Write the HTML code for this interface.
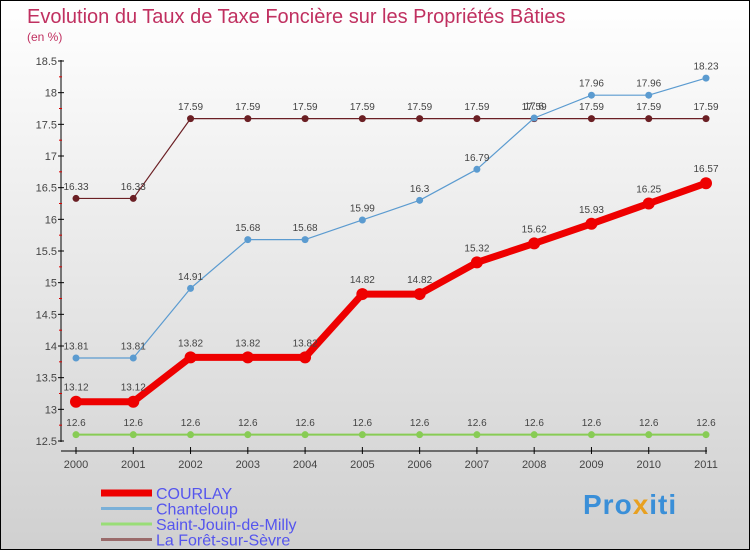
<!DOCTYPE html>
<html><head><meta charset="utf-8"><style>
body{margin:0}
#c{width:750px;height:550px;position:relative;background:linear-gradient(#ffffff,#d0d0d0);border:1px solid #000;box-sizing:border-box;overflow:hidden;font-family:"Liberation Sans",sans-serif}
</style></head><body>
<div id="c">
<svg id="s" width="750" height="550">
<text x="26" y="22" font-size="20" fill="#c03060">Evolution du Taux de Taxe Foncière sur les Propriétés Bâties</text>
<text x="26" y="40" font-size="12" fill="#c03060">(en %)</text>
</svg>
<div style="position:absolute;left:582px;top:488px;font-size:28px;font-weight:bold;letter-spacing:1px"><span style="color:#3a8fd8">Pro</span><span style="color:#e8a020">x</span><span style="color:#3a8fd8">iti</span></div>
</div>
<script>
const years=["2000","2001","2002","2003","2004","2005","2006","2007","2008","2009","2010","2011"];
const courlay=[13.12,13.12,13.82,13.82,13.82,14.82,14.82,15.32,15.62,15.93,16.25,16.57];
const chanteloup=[13.81,13.81,14.91,15.68,15.68,15.99,16.3,16.79,17.6,17.96,17.96,18.23];
const saintJouin=[12.6,12.6,12.6,12.6,12.6,12.6,12.6,12.6,12.6,12.6,12.6,12.6];
const laForet=[16.33,16.33,17.59,17.59,17.59,17.59,17.59,17.59,17.59,17.59,17.59,17.59];
const yTicks=[12.5,13,13.5,14,14.5,15,15.5,16,16.5,17,17.5,18,18.5];
const s=document.getElementById('s');const NS='http://www.w3.org/2000/svg';
const X=i=>75+i*(630/11);const Y=v=>440-(v-12.5)*(380/6);
function mk(t,a,p){const e=document.createElementNS(NS,t);for(const k in a)e.setAttribute(k,a[k]);(p||s).appendChild(e);return e;}
let l=mk('line',{x1:60,y1:59,x2:60,y2:441,stroke:'#000'});


l=mk('line',{x1:60,y1:450,x2:706,y2:450,stroke:'#000'});


yTicks.forEach((v,i)=>{
 mk('line',{x1:57,y1:Y(v),x2:63,y2:Y(v),stroke:'#000'});
 if(i<yTicks.length-1)mk('line',{x1:58,y1:Y(v+0.25),x2:61,y2:Y(v+0.25),stroke:'#d00'});
 const t=mk('text',{x:56,y:Y(v)+4,'text-anchor':'end','font-size':11,fill:'#444'});t.textContent=String(v);
 
 
});
years.forEach((y,i)=>{
 mk('line',{x1:X(i),y1:446,x2:X(i),y2:453,stroke:'#000'});
 const t=mk('text',{x:X(i),y:467,'text-anchor':'middle','font-size':11,fill:'#444'});t.textContent=y;
 
 
});
function series(d,col,w,r,name){
 const g=mk('g',{});
 
 
 mk('polyline',{points:d.map((v,i)=>X(i)+','+Y(v)).join(' '),fill:'none',stroke:col,'stroke-width':w,'stroke-linejoin':'round'},g);
 d.forEach((v,i)=>{
  const c=mk('circle',{cx:X(i),cy:Y(v),r:r,fill:col},g);
  
  
  const t=mk('text',{x:X(i),y:Y(v)-(r+5),'text-anchor':'middle','font-size':10,fill:'#444'},g);t.textContent=String(v);
 });
}
series(saintJouin,'#88cc55',2,3.5,'saint-jouin');
series(laForet,'#6b1f24',1.2,3.5,'la-foret');
series(chanteloup,'#5b9bd0',1.2,3.5,'chanteloup');
series(courlay,'#ee0000',7,6,'courlay');
const leg=[["COURLAY","#ee0000",7],["Chanteloup","#7ab0d8",3],["Saint-Jouin-de-Milly","#99dd77",3],["La Forêt-sur-Sèvre","#9a6b6b",3]];
leg.forEach((e,i)=>{
 const y=492+i*15.5;
 mk('line',{x1:100,y1:y,x2:151,y2:y,stroke:e[1],'stroke-width':e[2]});
 const t=mk('text',{x:155,y:y+6,'font-size':16,fill:'#5555ee'});t.textContent=e[0];
 
 
});
</script>
</body></html>
